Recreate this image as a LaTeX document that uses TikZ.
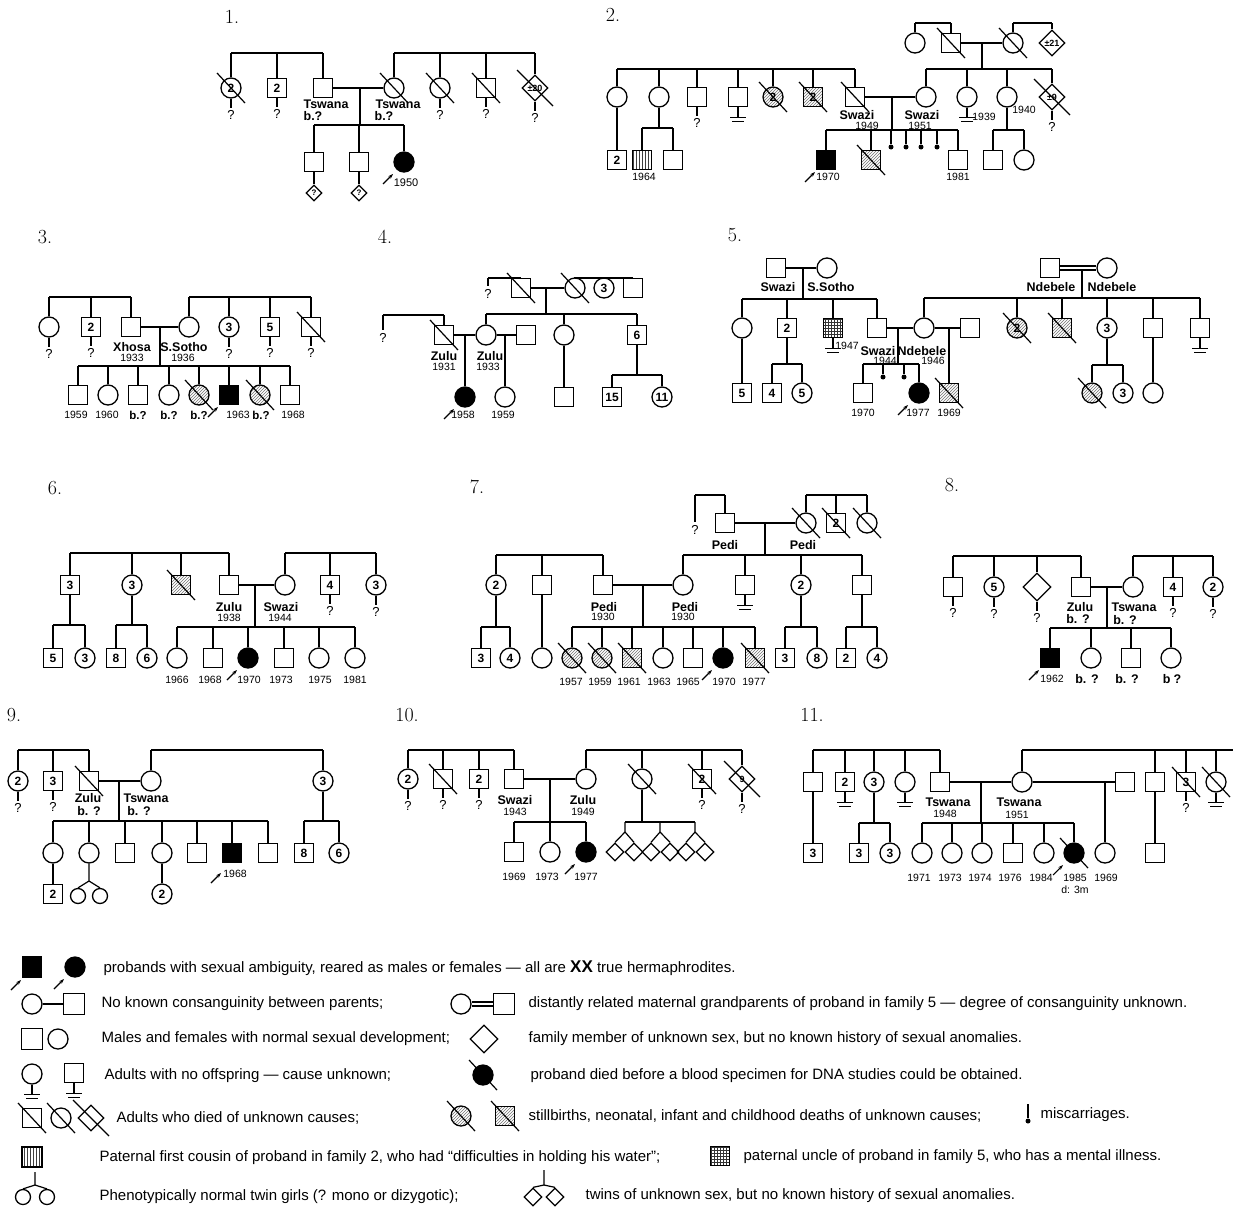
\documentclass[tikz,border=0pt]{standalone}
\usepackage{fontspec}
\setsansfont{Liberation Sans}
\usetikzlibrary{calc,shapes.geometric,patterns,arrows.meta}
\tikzset{
 sym/.style={draw, line width=1.3pt, inner sep=0pt, font=\sffamily\bfseries\fontsize{12}{12}\selectfont},
 msq/.style={sym, rectangle, minimum size=19pt},
 fci/.style={sym, circle, minimum size=20pt},
 udi/.style={sym, diamond, minimum size=26pt, font=\sffamily\bfseries\fontsize{9}{9}\selectfont},
 sdi/.style={sym, diamond, minimum size=16pt, font=\sffamily\bfseries\fontsize{8}{8}\selectfont},
 tdi/.style={sym, diamond, minimum size=18pt},
 sci/.style={sym, circle, minimum size=15pt},
 aff/.style={fill=black},
 sb/.style={pattern=north east lines, pattern color=black!55},
 vs/.style={pattern=vertical lines, pattern color=black!75},
 mesh/.style={pattern=grid, pattern color=black!80},
 mcar/.style={circle, fill=black, inner sep=0pt, minimum size=5pt},
 eth/.style={font=\sffamily\bfseries\fontsize{12.5}{12.5}\selectfont, inner sep=0pt},
 eths/.style={font=\sffamily\bfseries\fontsize{11.5}{11.5}\selectfont, inner sep=0pt},
 yr/.style={font=\sffamily\fontsize{10.5}{10.5}\selectfont, inner sep=0pt},
 qmk/.style={font=\sffamily\fontsize{13}{13}\selectfont, inner sep=0pt},
 leg/.style={font=\sffamily\fontsize{15}{15}\selectfont, anchor=west, inner sep=0pt},
 fam/.style={font=\rmfamily\fontsize{20}{20}\selectfont, inner sep=0pt},
 parr/.style={-{Stealth[length=5pt,width=3.5pt]}, line width=1.1pt}
}
\newcommand\sib[3]{\coordinate (sy) at (0,#1); \draw (#2.north |- sy) -- (#3.north |- sy);}
\newcommand\kids[1]{\foreach \kk in {#1} {\draw (\kk.north) -- (\kk.north |- sy);}}
\newcommand\couple[3]{\draw (#1.east) -- (#2.west); \coordinate (dx) at (#3,0); \coordinate (cp) at (dx |- #1.east);}
\newcommand\dcouple[3]{\draw ([yshift=2pt]#1.east) -- ([yshift=2pt]#2.west); \draw ([yshift=-2pt]#1.east) -- ([yshift=-2pt]#2.west); \coordinate (dx) at (#3,0); \coordinate (cp0) at (dx |- #1.east); \coordinate (cp) at ($(cp0)+(0,2)$);}
\newcommand\descend{\draw (cp) -- (cp |- sy);}
\newcommand\descendto[1]{\draw (cp) -- (cp |- #1.north);}
\newcommand\dead[1]{\draw ($(#1.center)+(-14,-15)$) -- ($(#1.center)+(14,15)$);}
\newcommand\deadL[1]{\draw ($(#1.center)+(-18,-18)$) -- ($(#1.center)+(18,18)$);}
\newcommand\qm[1]{\draw (#1.south) -- ++(0,9) node[qmk, anchor=north, yshift=-2pt] {?};}
\newcommand\noff[1]{\draw (#1.south) -- ++(0,10) ++(-8,0) -- ++(16,0) ++(-14,4) -- ++(12,0);}
\newcommand\prob[2][0]{\draw[parr] ($(#2.center)+(-21,22+#1)$) -- ($(#2.center)+(-11,12+#1)$);}
\begin{document}
\begin{tikzpicture}[x=1pt,y=-1pt,line width=1.2pt]
\useasboundingbox (0,0) rectangle (1233,1207);
% ================= Family 1
\node[fam] at (232,17) {1.};
\node[fci] (p1a) at (231,88) {2};
\node[msq] (p1b) at (277,88) {2};
\node[msq] (p1c) at (323,88) {};
\node[fci] (p1d) at (394,88) {};
\node[fci] (p1e) at (440,88) {};
\node[msq] (p1f) at (486,88) {};
\node[udi] (p1g) at (535,88) {±20};
\dead{p1a}\dead{p1d}\dead{p1e}\dead{p1f}\deadL{p1g}
\qm{p1a}\qm{p1b}\qm{p1e}\qm{p1f}\qm{p1g}
\sib{53}{p1a}{p1c}\kids{p1a,p1b,p1c}
\sib{53}{p1d}{p1g}\kids{p1d,p1e,p1f,p1g}
\node[msq] (p1h) at (314,162) {};
\node[msq] (p1i) at (359,162) {};
\node[fci,aff] (p1j) at (404,162) {};
\couple{p1c}{p1d}{360}
\sib{125}{p1h}{p1j}\kids{p1h,p1i,p1j}\descend
\node[sdi] (p1k) at (314,193) {?};
\node[sdi] (p1l) at (359,193) {?};
\draw (p1h.south) -- (p1k.north); \draw (p1i.south) -- (p1l.north);
\node[eth] at (326,104) {Tswana}; \node[eth] at (313,116) {b.?};
\node[eth] at (398,104) {Tswana}; \node[eth] at (384,116) {b.?};
\node[yr,font=\sffamily\fontsize{11}{11}\selectfont] at (406,183) {1950};
\prob{p1j}
% ================= Family 2
\node[fam] at (613,15) {2.};
\node[fci] (q2a) at (915,43) {};
\node[msq] (q2b) at (951,43) {};
\node[fci] (q2c) at (1013,43) {};
\node[udi] (q2d) at (1052,43) {±21};
\dead{q2b}\dead{q2c}
\sib{23}{q2a}{q2b}\kids{q2a,q2b}
\sib{23}{q2c}{q2d}\kids{q2c,q2d}
\couple{q2b}{q2c}{982}
\node[fci] (q2e) at (617,97) {};
\node[fci] (q2f) at (659,97) {};
\node[msq] (q2g) at (697,97) {};
\node[msq] (q2h) at (738,97) {};
\node[fci,sb] (q2i) at (773,97) {2};
\node[msq,sb] (q2j) at (813,97) {2};
\node[msq] (q2k) at (855,97) {};
\node[fci] (q2l) at (926,97) {};
\node[fci] (q2m) at (967,97) {};
\node[fci] (q2n) at (1007,97) {};
\node[udi] (q2o) at (1052,97) {±9};
\dead{q2i}\dead{q2j}\dead{q2k}\deadL{q2o}
\qm{q2g}\qm{q2o}\noff{q2h}\noff{q2m}
\sib{69}{q2e}{q2k}\kids{q2e,q2f,q2g,q2h,q2i,q2j,q2k}
\sib{69}{q2l}{q2o}\kids{q2l,q2m,q2n,q2o}\descend
\couple{q2k}{q2l}{892}
\node[msq,aff] (q2p) at (826,160) {};
\node[msq,sb] (q2q) at (871,160) {};
\node[mcar] (q2r1) at (891,147) {};
\node[mcar] (q2r2) at (906,147) {};
\node[mcar] (q2r3) at (921,147) {};
\node[mcar] (q2r4) at (937,147) {};
\node[msq] (q2v) at (958,160) {};
\dead{q2q}
\sib{130}{q2p}{q2v}\kids{q2p,q2q,q2r1,q2r2,q2r3,q2r4,q2v}\descend
\node[eth] at (857,115) {Swazi}; \node[yr] at (867,126) {1949};
\node[eth] at (922,115) {Swazi}; \node[yr] at (920,126) {1951};
\node[yr] at (984,117) {1939}; \node[yr] at (1024,110) {1940};
\node[yr] at (828,177) {1970}; \node[yr] at (958,177) {1981};
\prob{q2p}
\node[msq] (q2w) at (617,160) {2};
\draw (q2e.south) -- (q2w.north);
\node[msq,vs] (q2x) at (642,160) {};
\node[msq] (q2y) at (673,160) {};
\sib{128}{q2x}{q2y}\kids{q2x,q2y}\draw (q2f.south) -- (q2f.south |- sy);
\node[yr] at (644,177) {1964};
\node[msq] (q2z) at (993,160) {};
\node[fci] (q2zz) at (1024,160) {};
\sib{130}{q2z}{q2zz}\kids{q2z,q2zz}\draw (q2n.south) -- (q2n.south |- sy);
% ================= Family 3
\node[fam] at (45,237) {3.};
\node[fci] (r3a) at (49,327) {};
\node[msq] (r3b) at (91,327) {2};
\node[msq] (r3c) at (131,327) {};
\node[fci] (r3d) at (189,327) {};
\node[fci] (r3e) at (229,327) {3};
\node[msq] (r3f) at (270,327) {5};
\node[msq] (r3g) at (311,327) {};
\dead{r3g}
\qm{r3a}\qm{r3b}\qm{r3e}\qm{r3f}\qm{r3g}
\sib{297}{r3a}{r3c}\kids{r3a,r3b,r3c}
\sib{297}{r3d}{r3g}\kids{r3d,r3e,r3f,r3g}
\couple{r3c}{r3d}{160}
\node[msq] (r3h) at (78,395) {};
\node[fci] (r3i) at (108,395) {};
\node[msq] (r3j) at (138,395) {};
\node[fci] (r3k) at (169,395) {};
\node[fci,sb] (r3l) at (199,395) {};
\node[msq,aff] (r3m) at (229,395) {};
\node[fci,sb] (r3n) at (260,395) {};
\node[msq] (r3o) at (290,395) {};
\dead{r3l}\dead{r3n}
\sib{366}{r3h}{r3o}\kids{r3h,r3i,r3j,r3k,r3l,r3m,r3n,r3o}\descend
\node[eth] at (132,347) {Xhosa}; \node[yr] at (132,358) {1933};
\node[eth] at (184,347) {S.Sotho}; \node[yr] at (183,358) {1936};
\node[yr] at (76,415) {1959}; \node[yr] at (107,415) {1960};
\node[eths] at (138,415) {b.?}; \node[eths] at (169,415) {b.?};
\node[eths] at (199,415) {b.?}; \node[yr] at (238,415) {1963};
\node[eths] at (261,415) {b.?}; \node[yr] at (293,415) {1968};
\prob{r3m}
% ================= Family 4
\node[fam] at (385,237) {4.};
\node[msq] (s4a) at (521,288) {};
\node[fci] (s4b) at (575,288) {};
\node[fci] (s4c) at (604,288) {3};
\node[msq] (s4d) at (633,288) {};
\dead{s4a}\dead{s4b}
\node[qmk,inner sep=3pt] (s4q) at (488,294) {?};
\sib{278}{s4q}{s4a}\kids{s4q,s4a}
\sib{278}{s4b}{s4d}\kids{s4b,s4c,s4d}
\couple{s4a}{s4b}{546}
\node[msq] (s4z) at (444,335) {};
\node[fci] (s4e) at (486,335) {};
\node[msq] (s4f) at (526,335) {};
\node[fci] (s4g) at (564,335) {};
\node[msq] (s4h) at (637,335) {6};
\dead{s4z}
\sib{314}{s4e}{s4h}\kids{s4e,s4g,s4h}\descend
\node[qmk,inner sep=3pt] (s4p) at (383,338) {?};
\sib{315}{s4p}{s4z}\kids{s4p,s4z}
\couple{s4z}{s4e}{465}
\node[fci,aff] (s4j) at (465,397) {};
\descendto{s4j}
\couple{s4e}{s4f}{505}
\node[fci] (s4k) at (505,397) {};
\descendto{s4k}
\node[msq] (s4l) at (564,397) {};
\draw (s4g.south) -- (s4l.north);
\node[msq] (s4m) at (612,397) {15};
\node[fci] (s4n) at (662,397) {11};
\sib{375}{s4m}{s4n}\kids{s4m,s4n}\draw (s4h.south) -- (s4h.south |- sy);
\node[eth] at (444,356) {Zulu}; \node[yr] at (444,367) {1931};
\node[eth] at (490,356) {Zulu}; \node[yr] at (488,367) {1933};
\node[yr] at (463,415) {1958}; \node[yr] at (503,415) {1959};
\prob{s4j}
% ================= Family 5
\node[fam] at (735,235) {5.};
\node[msq] (t5a) at (776,268) {};
\node[fci] (t5b) at (827,268) {};
\couple{t5a}{t5b}{803}
\node[fci] (t5c) at (742,328) {};
\node[msq] (t5d) at (787,328) {2};
\node[msq,mesh] (t5e) at (833,328) {};
\node[msq] (t5f) at (877,328) {};
\node[fci] (t5g) at (924,328) {};
\node[msq] (t5h) at (970,328) {};
\node[fci,sb] (t5i) at (1017,328) {2};
\node[msq,sb] (t5j) at (1062,328) {};
\node[fci] (t5k) at (1107,328) {3};
\node[msq] (t5l) at (1153,328) {};
\node[msq] (t5m) at (1200,328) {};
\dead{t5i}\dead{t5j}\noff{t5e}\noff{t5m}
\sib{299}{t5c}{t5f}\kids{t5c,t5d,t5e,t5f}\descend
\node[msq] (t5n) at (1050,268) {};
\node[fci] (t5o) at (1107,268) {};
\dcouple{t5n}{t5o}{1082}
\sib{298}{t5g}{t5m}\kids{t5g,t5i,t5j,t5k,t5l,t5m}\descend
\node[eth] at (778,287) {Swazi}; \node[eth] at (831,287) {S.Sotho};
\node[eth] at (1051,287) {Ndebele}; \node[eth] at (1112,287) {Ndebele};
\couple{t5f}{t5g}{898}
\node[msq] (t5p) at (863,393) {};
\node[mcar] (t5q) at (883,377) {};
\node[mcar] (t5r) at (904,377) {};
\node[fci,aff] (t5s) at (919,393) {};
\sib{364}{t5p}{t5s}\kids{t5p,t5q,t5r,t5s}\descend
\couple{t5g}{t5h}{949}
\node[msq,sb] (t5t) at (949,393) {};
\dead{t5t}\descendto{t5t}
\node[eth] at (878,351) {Swazi}; \node[yr] at (885,361) {1944};
\node[eth] at (922,351) {Ndebele}; \node[yr] at (933,361) {1946};
\node[yr] at (847,346) {1947};
\node[yr] at (863,413) {1970}; \node[yr] at (918,413) {1977}; \node[yr] at (949,413) {1969};
\prob{t5s}
\node[msq] (t5u) at (742,393) {5};
\draw (t5c.south) -- (t5u.north);
\node[msq] (t5v) at (772,393) {4};
\node[fci] (t5w) at (802,393) {5};
\sib{364}{t5v}{t5w}\kids{t5v,t5w}\draw (t5d.south) -- (t5d.south |- sy);
\node[fci,sb] (t5x) at (1092,393) {};
\node[fci] (t5y) at (1123,393) {3};
\dead{t5x}
\sib{365}{t5x}{t5y}\kids{t5x,t5y}\draw (t5k.south) -- (t5k.south |- sy);
\node[fci] (t5z) at (1153,393) {};
\draw (t5l.south) -- (t5z.north);
% ================= Family 6
\node[fam] at (55,488) {6.};
\node[msq] (u6a) at (70,585) {3};
\node[fci] (u6b) at (132,585) {3};
\node[msq,sb] (u6c) at (181,585) {};
\node[msq] (u6d) at (229,585) {};
\node[fci] (u6e) at (285,585) {};
\node[msq] (u6f) at (330,585) {4};
\node[fci] (u6g) at (376,585) {3};
\dead{u6c}\qm{u6f}\qm{u6g}
\sib{553}{u6a}{u6d}\kids{u6a,u6b,u6c,u6d}
\sib{553}{u6e}{u6g}\kids{u6e,u6f,u6g}
\couple{u6d}{u6e}{255}
\node[fci] (u6h) at (177,658) {};
\node[msq] (u6i) at (213,658) {};
\node[fci,aff] (u6j) at (248,658) {};
\node[msq] (u6k) at (284,658) {};
\node[fci] (u6l) at (319,658) {};
\node[fci] (u6m) at (355,658) {};
\sib{627}{u6h}{u6m}\kids{u6h,u6i,u6j,u6k,u6l,u6m}\descend
\node[eth] at (229,607) {Zulu}; \node[yr] at (229,618) {1938};
\node[eth] at (281,607) {Swazi}; \node[yr] at (280,618) {1944};
\node[yr] at (177,680) {1966}; \node[yr] at (210,680) {1968}; \node[yr] at (249,680) {1970};
\node[yr] at (281,680) {1973}; \node[yr] at (320,680) {1975}; \node[yr] at (355,680) {1981};
\prob{u6j}
\node[msq] (u6n) at (53,658) {5};
\node[fci] (u6o) at (85,658) {3};
\sib{625}{u6n}{u6o}\kids{u6n,u6o}\draw (u6a.south) -- (u6a.south |- sy);
\node[msq] (u6p) at (116,658) {8};
\node[fci] (u6q) at (147,658) {6};
\sib{625}{u6p}{u6q}\kids{u6p,u6q}\draw (u6b.south) -- (u6b.south |- sy);
% ================= Family 7
\node[fam] at (477,487) {7.};
\node[qmk,inner sep=3pt] (v7q) at (695,530) {?};
\node[msq] (v7a) at (725,523) {};
\node[fci] (v7b) at (806,523) {};
\node[msq] (v7c) at (836,523) {2};
\node[fci] (v7d) at (867,523) {};
\dead{v7b}\dead{v7c}\dead{v7d}
\sib{495}{v7q}{v7a}\kids{v7q,v7a}
\sib{495}{v7b}{v7d}\kids{v7b,v7c,v7d}
\couple{v7a}{v7b}{765}
\node[fci] (v7e) at (496,585) {2};
\node[msq] (v7f) at (542,585) {};
\node[msq] (v7g) at (603,585) {};
\node[fci] (v7h) at (683,585) {};
\node[msq] (v7i) at (745,585) {};
\node[fci] (v7j) at (801,585) {2};
\node[msq] (v7k) at (862,585) {};
\noff{v7i}
\sib{555}{v7e}{v7g}\kids{v7e,v7f,v7g}
\sib{555}{v7h}{v7k}\kids{v7h,v7i,v7j,v7k}\descend
\node[eth] at (725,545) {Pedi}; \node[eth] at (803,545) {Pedi};
\couple{v7g}{v7h}{643}
\node[fci,sb] (v7l) at (572,658) {};
\node[fci,sb] (v7m) at (602,658) {};
\node[msq,sb] (v7n) at (632,658) {};
\node[fci] (v7o) at (663,658) {};
\node[msq] (v7p) at (693,658) {};
\node[fci,aff] (v7s) at (723,658) {};
\node[msq,sb] (v7r) at (755,658) {};
\dead{v7l}\dead{v7m}\dead{v7n}\dead{v7r}
\sib{627}{v7l}{v7r}\kids{v7l,v7m,v7n,v7o,v7p,v7s,v7r}\descend
\node[eth] at (604,607) {Pedi}; \node[yr] at (603,617) {1930};
\node[eth] at (685,607) {Pedi}; \node[yr] at (683,617) {1930};
\node[yr] at (571,682) {1957}; \node[yr] at (600,682) {1959}; \node[yr] at (629,682) {1961};
\node[yr] at (659,682) {1963}; \node[yr] at (688,682) {1965}; \node[yr] at (724,682) {1970};
\node[yr] at (754,682) {1977};
\prob{v7s}
\node[msq] (v7t) at (481,658) {3};
\node[fci] (v7u) at (510,658) {4};
\sib{627}{v7t}{v7u}\kids{v7t,v7u}\draw (v7e.south) -- (v7e.south |- sy);
\node[fci] (v7v) at (542,658) {};
\draw (v7f.south) -- (v7v.north);
\node[msq] (v7w) at (785,658) {3};
\node[fci] (v7x) at (817,658) {8};
\sib{627}{v7w}{v7x}\kids{v7w,v7x}\draw (v7j.south) -- (v7j.south |- sy);
\node[msq] (v7y) at (846,658) {2};
\node[fci] (v7z) at (877,658) {4};
\sib{627}{v7y}{v7z}\kids{v7y,v7z}\draw (v7k.south) -- (v7k.south |- sy);
% ================= Family 8
\node[fam] at (952,485) {8.};
\node[msq] (w8a) at (953,587) {};
\node[fci] (w8b) at (994,587) {5};
\node[udi,minimum size=28pt] (w8c) at (1037,587) {};
\node[msq] (w8d) at (1081,587) {};
\node[fci] (w8e) at (1133,587) {};
\node[msq] (w8f) at (1173,587) {4};
\node[fci] (w8g) at (1213,587) {2};
\qm{w8a}\qm{w8b}\qm{w8c}\qm{w8f}\qm{w8g}
\sib{556}{w8a}{w8d}\kids{w8a,w8b,w8c,w8d}
\sib{556}{w8e}{w8g}\kids{w8e,w8f,w8g}
\couple{w8d}{w8e}{1107}
\node[msq,aff] (w8h) at (1050,658) {};
\node[fci] (w8i) at (1091,658) {};
\node[msq] (w8j) at (1131,658) {};
\node[fci] (w8k) at (1171,658) {};
\sib{628}{w8h}{w8k}\kids{w8h,w8i,w8j,w8k}\descend
\node[eth] at (1080,607) {Zulu}; \node[eth] at (1078,619) {b. ?};
\node[eth] at (1134,607) {Tswana}; \node[eth] at (1125,620) {b. ?};
\node[yr] at (1052,679) {1962}; \node[eth] at (1087,679) {b. ?};
\node[eth] at (1127,679) {b. ?}; \node[eth] at (1172,679) {b\hspace{3pt}?};
\prob{w8h}
% ================= Family 9
\node[fam] at (14,715) {9.};
\node[fci] (x9a) at (18,781) {2};
\node[msq] (x9b) at (53,781) {3};
\node[msq] (x9c) at (89,781) {};
\node[fci] (x9d) at (151,781) {};
\node[fci] (x9e) at (323,781) {3};
\dead{x9c}\qm{x9a}\qm{x9b}
\sib{750}{x9a}{x9c}\kids{x9a,x9b,x9c}
\sib{750}{x9d}{x9e}\kids{x9d,x9e}
\couple{x9c}{x9d}{119}
\node[fci] (x9f) at (53,853) {};
\node[fci] (x9g) at (89,853) {};
\node[msq] (x9h) at (125,853) {};
\node[fci] (x9i) at (162,853) {};
\node[msq] (x9j) at (197,853) {};
\node[msq,aff] (x9k) at (232,853) {};
\node[msq] (x9l) at (268,853) {};
\sib{821}{x9f}{x9l}\kids{x9f,x9g,x9h,x9i,x9j,x9k,x9l}\descend
\node[eth] at (88,798) {Zulu}; \node[eth] at (89,811) {b. ?};
\node[eth] at (146,798) {Tswana}; \node[eth] at (139,811) {b. ?};
\node[yr] at (235,874) {1968};
\prob[8]{x9k}
\node[msq] (x9m) at (53,894) {2};
\draw (x9f.south) -- (x9m.north);
\coordinate (x9s) at (89,881);
\node[sci] (x9n) at (78,896) {};
\node[sci] (x9o) at (100,896) {};
\draw (x9g.south) -- (x9s) -- (x9n.north); \draw (x9s) -- (x9o.north);
\node[fci] (x9p) at (162,894) {2};
\draw (x9i.south) -- (x9p.north);
\node[msq] (x9q) at (304,853) {8};
\node[fci] (x9r) at (339,853) {6};
\sib{821}{x9q}{x9r}\kids{x9q,x9r}\draw (x9e.south) -- (x9e.south |- sy);
% ================= Family 10
\node[fam] at (407,715) {10.};
\node[fci] (y10a) at (408,779) {2};
\node[msq] (y10b) at (443,779) {};
\node[msq] (y10c) at (479,779) {2};
\node[msq] (y10d) at (514,779) {};
\node[fci] (y10e) at (586,779) {};
\node[fci] (y10f) at (642,779) {};
\node[msq] (y10g) at (702,779) {2};
\node[udi] (y10h) at (742,779) {9};
\dead{y10b}\dead{y10f}\dead{y10g}\deadL{y10h}
\qm{y10a}\qm{y10b}\qm{y10c}\qm{y10g}\qm{y10h}
\sib{750}{y10a}{y10d}\kids{y10a,y10b,y10c,y10d}
\sib{750}{y10e}{y10h}\kids{y10e,y10f,y10g,y10h}
\couple{y10d}{y10e}{550}
\node[msq] (y10i) at (514,852) {};
\node[fci] (y10j) at (550,852) {};
\node[fci,aff] (y10k) at (586,852) {};
\sib{822}{y10i}{y10k}\kids{y10i,y10j,y10k}\descend
\node[eth] at (515,800) {Swazi}; \node[yr] at (515,812) {1943};
\node[eth] at (583,800) {Zulu}; \node[yr] at (583,812) {1949};
\node[yr] at (514,877) {1969}; \node[yr] at (547,877) {1973}; \node[yr] at (586,877) {1977};
\prob{y10k}
\node[tdi] (y10t1) at (615,852) {};
\node[tdi] (y10t2) at (634,852) {};
\node[tdi] (y10t3) at (651,852) {};
\node[tdi] (y10t4) at (670,852) {};
\node[tdi] (y10t5) at (686,852) {};
\node[tdi] (y10t6) at (705,852) {};
\coordinate (y10s1) at (625,832);
\coordinate (y10s2) at (660,832);
\coordinate (y10s3) at (695,832);
\coordinate (sy) at (0,822);
\draw (y10s1 |- sy) -- (y10s3 |- sy);
\draw (y10f.south) -- (y10f.south |- sy);
\draw (y10s1 |- sy) -- (y10s1) -- (y10t1.north); \draw (y10s1) -- (y10t2.north);
\draw (y10s2 |- sy) -- (y10s2) -- (y10t3.north); \draw (y10s2) -- (y10t4.north);
\draw (y10s3 |- sy) -- (y10s3) -- (y10t5.north); \draw (y10s3) -- (y10t6.north);
% ================= Family 11
\node[fam] at (812,715) {11.};
\node[msq] (z11a) at (813,782) {};
\node[msq] (z11b) at (845,782) {2};
\node[fci] (z11c) at (874,782) {3};
\node[fci] (z11d) at (905,782) {};
\node[msq] (z11e) at (940,782) {};
\node[fci] (z11f) at (1022,782) {};
\node[msq] (z11g) at (1125,782) {};
\node[msq] (z11h) at (1155,782) {};
\node[msq] (z11i) at (1186,782) {3};
\node[fci] (z11j) at (1216,782) {};
\dead{z11i}\dead{z11j}\qm{z11i}
\noff{z11b}\noff{z11d}\noff{z11j}
\sib{750}{z11a}{z11e}\kids{z11a,z11b,z11c,z11d,z11e}
\sib{750}{z11f}{z11j}\kids{z11f,z11h,z11i,z11j}
\coordinate (z11end) at (1233,750);
\draw (z11j.north |- sy) -- (z11end);
\couple{z11e}{z11f}{981}
\node[fci] (z11k) at (922,853) {};
\node[fci] (z11l) at (952,853) {};
\node[fci] (z11m) at (982,853) {};
\node[msq] (z11n) at (1013,853) {};
\node[fci] (z11o) at (1044,853) {};
\node[fci,aff] (z11p) at (1074,853) {};
\dead{z11p}
\sib{823}{z11k}{z11p}\kids{z11k,z11l,z11m,z11n,z11o,z11p}\descend
\couple{z11f}{z11g}{1105}
\node[fci] (z11r) at (1105,853) {};
\descendto{z11r}
\node[eth] at (948,802) {Tswana}; \node[yr] at (945,814) {1948};
\node[eth] at (1019,802) {Tswana}; \node[yr] at (1017,815) {1951};
\node[yr] at (919,878) {1971}; \node[yr] at (950,878) {1973}; \node[yr] at (980,878) {1974};
\node[yr] at (1010,878) {1976}; \node[yr] at (1041,878) {1984}; \node[yr] at (1075,878) {1985};
\node[yr] at (1106,878) {1969}; \node[yr] at (1075,890) {d: 3m};
\prob{z11p}
\node[msq] (z11s) at (813,853) {3};
\draw (z11a.south) -- (z11s.north);
\node[msq] (z11t) at (859,853) {3};
\node[fci] (z11u) at (890,853) {3};
\sib{823}{z11t}{z11u}\kids{z11t,z11u}\draw (z11c.south) -- (z11c.south |- sy);
\node[msq] (z11v) at (1155,853) {};
\draw (z11h.south) -- (z11v.north);
% ================= Legend
\node[msq,aff,minimum height=21pt] (lg1) at (32,967) {};
\node[fci,aff] (lg2) at (75,967) {};
\prob[1]{lg1}\prob{lg2}
\node[leg] (lt1) at (103,968) {probands with sexual ambiguity, reared as males or females — all are {\bfseries\fontsize{17}{17}\selectfont XX} true hermaphrodites.};
\node[fci] (lg3) at (32,1004) {};
\node[msq,minimum size=21pt] (lg4) at (74,1004) {};
\draw (lg3.east) -- (lg4.west);
\node[leg] (lt2) at (101,1004) {No known consanguinity between parents;};
\node[fci] (lg5) at (461,1004) {};
\node[msq,minimum size=21pt] (lg6) at (504,1004) {};
\dcouple{lg5}{lg6}{480}
\node[leg] (lt3) at (528,1004) {distantly related maternal grandparents of proband in family 5 — degree of consanguinity unknown.};
\node[msq,minimum size=21pt] (lg7) at (32,1039) {};
\node[fci] (lg8) at (58,1039) {};
\node[leg] (lt4) at (101,1039) {Males and females with normal sexual development;};
\node[udi,minimum size=28pt] (lg9) at (484,1039) {};
\node[leg] (lt5) at (528,1039) {family member of unknown sex, but no known history of sexual anomalies.};
\node[fci] (lg10) at (32,1074) {};
\node[msq] (lg11) at (74,1073) {};
\noff{lg10}\noff{lg11}
\node[leg] (lt6) at (104,1076) {Adults with no offspring — cause unknown;};
\node[fci,aff] (lg12) at (483,1075) {};
\dead{lg12}
\node[leg] (lt7) at (530,1076) {proband died before a blood specimen for DNA studies could be obtained.};
\node[msq] (lg13) at (32,1118) {};
\node[fci] (lg14) at (61,1118) {};
\node[udi] (lg15) at (91,1118) {};
\dead{lg13}\dead{lg14}\deadL{lg15}
\node[leg] (lt8) at (116,1118) {Adults who died of unknown causes;};
\node[fci,sb] (lg16) at (461,1116) {};
\node[msq,sb] (lg17) at (505,1116) {};
\dead{lg16}\dead{lg17}
\node[leg] (lt9) at (528,1116) {stillbirths, neonatal, infant and childhood deaths of unknown causes;};
\coordinate (lg18t) at (1028,1104);
\node[mcar] (lg18) at (1028,1121) {};
\draw (lg18t) -- (lg18.north);
\node[leg] (lt10) at (1040,1115) {miscarriages.};
\node[msq,vs,minimum size=20pt] (lg19) at (32,1157) {};
\node[leg] (lt11) at (99,1158) {Paternal first cousin of proband in family 2, who had “difficulties in holding his water”;};
\node[msq,mesh] (lg20) at (720,1156) {};
\node[leg] (lt12) at (743,1157) {paternal uncle of proband in family 5, who has a mental illness.};
\node[sci] (lg21) at (23,1197) {};
\node[sci] (lg22) at (47,1197) {};
\coordinate (lg23) at (35,1185);
\coordinate (lg24) at (35,1172);
\draw (lg24) -- (lg23) -- (lg21.north); \draw (lg23) -- (lg22.north);
\node[leg] (lt13) at (99,1197) {Phenotypically normal twin girls (? mono or dizygotic);};
\node[tdi] (lg25) at (533,1197) {};
\node[tdi] (lg26) at (555,1197) {};
\coordinate (lg27) at (544,1185);
\coordinate (lg28) at (544,1170);
\draw (lg28) -- (lg27) -- (lg25.north); \draw (lg27) -- (lg26.north);
\node[leg] (lt14) at (585,1196) {twins of unknown sex, but no known history of sexual anomalies.};
\end{tikzpicture}
\end{document}
